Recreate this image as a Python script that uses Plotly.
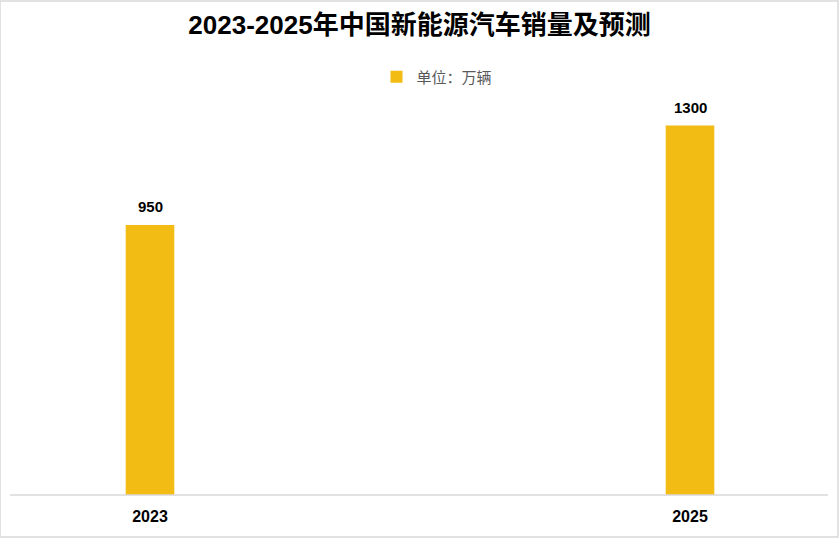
import plotly.graph_objects as go

years = [2023, 2025]
sales = [950, 1300]
tick_labels = ["2023", "2025"]
series_name = "单位：万辆"
title_text = "2023-2025年中国新能源汽车销量及预测"

PW, PH = 810, 398  # plot area size in px

fig = go.Figure()
fig.add_trace(go.Bar(
    x=years, y=sales, name=series_name,
    marker=dict(color="#F2BC14", line=dict(width=0)),
    width=0.18,
    showlegend=True,
    hoverinfo="x+y",
))

for xv, yv in zip(years, sales):
    fig.add_annotation(x=xv, y=yv, xref="x", yref="y", text="<b>" + str(yv) + "</b>",
                       showarrow=False, yshift=18, yanchor="middle",
                       font=dict(family="Liberation Sans, Arial, sans-serif", size=15, color="#000000"))

fig.update_layout(
    width=839, height=547,
    paper_bgcolor="white", plot_bgcolor="white",
    margin=dict(l=15, r=14, t=97, b=52),
    title=dict(text="<b>" + title_text + "</b>", x=0.5, xanchor="center", y=1 - 25/547, yanchor="middle",
               font=dict(family="Liberation Sans, Noto Sans CJK SC, sans-serif", size=26, color="#000000")),
    legend=dict(orientation="h", x=0.5 + 17/PW, xanchor="center", y=1 + 20/PH, yanchor="middle",
                font=dict(family="Noto Sans CJK SC, sans-serif", size=15, color="#595959"),
                itemwidth=30),
    xaxis=dict(range=[2022.5, 2025.5], tickvals=years, ticktext=["<b>" + t + "</b>" for t in tick_labels],
               showgrid=False, showline=False, ticks="", ticklabelstandoff=10,
               tickfont=dict(family="Liberation Sans, Arial, sans-serif", size=16, color="#000000"),
               zeroline=False),
    yaxis=dict(range=[0, 1400], visible=False, showgrid=False, zeroline=False),
    shapes=[
        dict(type="rect", xref="paper", yref="paper", x0=-15/PW, x1=1 + 13/PW,
             y0=-42/PH, y1=1 + 96/PH, line=dict(color="#D9D9D9", width=1.5)),
        dict(type="line", xref="paper", yref="paper", x0=-5/PW, x1=1 + 3/PW,
             y0=0, y1=0, line=dict(color="#D9D9D9", width=1.5)),
    ],
)

fig.write_html("out.html", post_script="document.body.style.margin='0';",
               config={"displayModeBar": False})
